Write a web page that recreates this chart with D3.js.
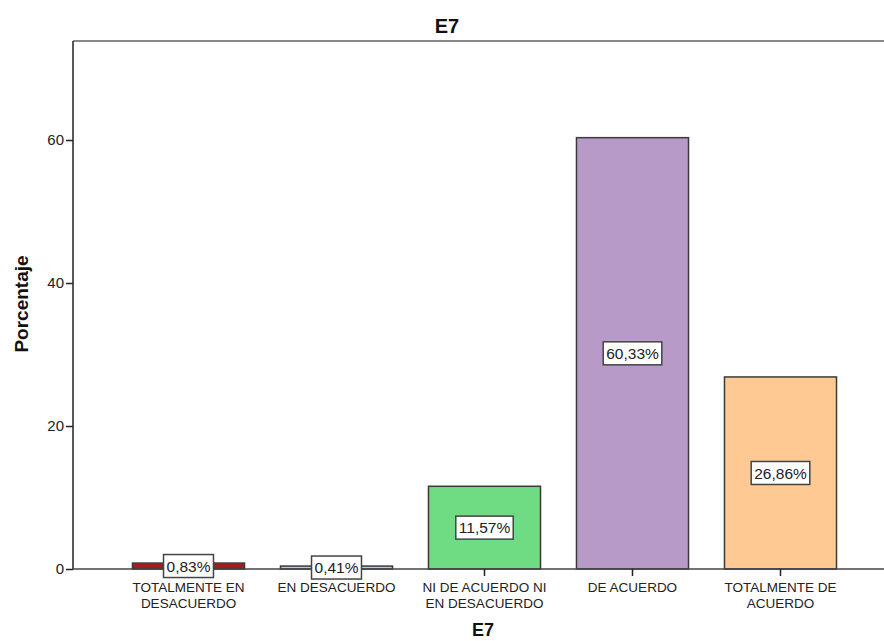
<!DOCTYPE html>
<html>
<head>
<meta charset="utf-8">
<script src="https://cdn.jsdelivr.net/npm/d3@7"></script>
<style>
  body { margin: 0; background: #fff; }
  svg { display: block; font-family: "Liberation Sans", Arial, sans-serif; }
</style>
</head>
<body>
<div class="chart"></div>
<script>
const categories = [
  ["TOTALMENTE EN", "DESACUERDO"],
  ["EN DESACUERDO"],
  ["NI DE ACUERDO NI", "EN DESACUERDO"],
  ["DE ACUERDO"],
  ["TOTALMENTE DE", "ACUERDO"]
];
const percentages = [0.83, 0.41, 11.57, 60.33, 26.86];
const barLabels = ["0,83%", "0,41%", "11,57%", "60,33%", "26,86%"];
const yTicks = [0, 20, 40, 60];
const barColors = ["#a31d1d", "#a9cdee", "#6fdb82", "#b79ac8", "#ffc994"];

const width = 884;
const height = 641;
const plotLeft = 73, plotTop = 41, plotBottom = 569;

const svg = d3.select(".chart").append("svg")
  .attr("width", width)
  .attr("height", height);

const x = d3.scaleBand()
  .domain(d3.range(categories.length))
  .range([114.5, 854.5])
  .paddingInner(0.243)
  .paddingOuter(0.1215);

const y = d3.scaleLinear()
  .domain([0, 73.85])
  .range([plotBottom, plotTop]);

// frame top line
svg.append("line")
  .attr("x1", plotLeft).attr("x2", width)
  .attr("y1", plotTop).attr("y2", plotTop)
  .attr("stroke", "#8a8a8a")
  .attr("stroke-width", 2);

// bars
svg.selectAll(".bar")
  .data(percentages)
  .enter()
  .append("rect")
  .attr("class", "bar")
  .attr("x", (d, i) => x(i))
  .attr("width", x.bandwidth())
  .attr("y", d => y(d))
  .attr("height", d => plotBottom - y(d))
  .attr("fill", (d, i) => barColors[i])
  .attr("stroke", "#3a3a3a")
  .attr("stroke-width", 1.5);

// y axis
const yAxis = svg.append("g")
  .attr("transform", "translate(" + plotLeft + ",0)")
  .call(d3.axisLeft(y).tickValues(yTicks).tickSize(7).tickPadding(2));
yAxis.select(".domain").remove();
yAxis.selectAll(".tick line").attr("stroke", "#222").attr("stroke-width", 1.5);
yAxis.selectAll(".tick text")
  .style("font-size", "15px")
  .attr("fill", "#222")
  .attr("font-family", "Liberation Sans, Arial, sans-serif");
svg.append("line")
  .attr("x1", plotLeft).attr("x2", plotLeft)
  .attr("y1", plotTop).attr("y2", plotBottom)
  .attr("stroke", "#222")
  .attr("stroke-width", 1.5);

// x axis
svg.append("line")
  .attr("x1", plotLeft).attr("x2", width)
  .attr("y1", plotBottom).attr("y2", plotBottom)
  .attr("stroke", "#444")
  .attr("stroke-width", 1.5);

const xTicks = svg.selectAll(".xtick")
  .data(categories)
  .enter()
  .append("g")
  .attr("class", "xtick")
  .attr("transform", (d, i) => "translate(" + (x(i) + x.bandwidth() / 2) + "," + plotBottom + ")");

xTicks.append("line")
  .attr("y1", 0).attr("y2", 7)
  .attr("stroke", "#222")
  .attr("stroke-width", 1.5);

xTicks.append("text")
  .attr("text-anchor", "middle")
  .style("font-size", "13.5px")
  .attr("fill", "#222")
  .selectAll("tspan")
  .data(d => d)
  .enter()
  .append("tspan")
  .attr("x", 0)
  .attr("y", (d, i) => 23 + i * 15.5)
  .text(d => d);

// bar value labels
const labels = svg.selectAll(".lbl")
  .data(percentages)
  .enter()
  .append("g")
  .attr("class", "lbl")
  .attr("transform", (d, i) => "translate(" + (x(i) + x.bandwidth() / 2) + "," + ((y(d) + plotBottom) / 2) + ")");

labels.append("rect")
  .attr("x", -26).attr("y", -11.5)
  .attr("width", 52).attr("height", 23)
  .attr("fill", "#fff")
  .attr("stroke", "#444")
  .attr("stroke-width", 1.5);

labels.append("text")
  .attr("text-anchor", "middle")
  .attr("dy", "0.36em")
  .style("font-size", "15.5px")
  .attr("fill", "#222")
  .text((d, i) => barLabels[i]);

labels.each(function () {
  const g = d3.select(this);
  const w = g.select("text").node().getComputedTextLength() + 6;
  g.select("rect").attr("x", -w / 2).attr("width", w);
});

// titles
svg.append("text")
  .attr("x", 447).attr("y", 33)
  .attr("text-anchor", "middle")
  .style("font-size", "20px")
  .style("font-weight", "bold")
  .attr("fill", "#111")
  .text("E7");

svg.append("text")
  .attr("x", 483).attr("y", 636)
  .attr("text-anchor", "middle")
  .style("font-size", "18px")
  .style("font-weight", "bold")
  .attr("fill", "#111")
  .text("E7");

svg.append("text")
  .attr("transform", "translate(28,304) rotate(-90)")
  .attr("text-anchor", "middle")
  .style("font-size", "19px")
  .style("font-weight", "bold")
  .attr("fill", "#111")
  .text("Porcentaje");
</script>
</body>
</html>
